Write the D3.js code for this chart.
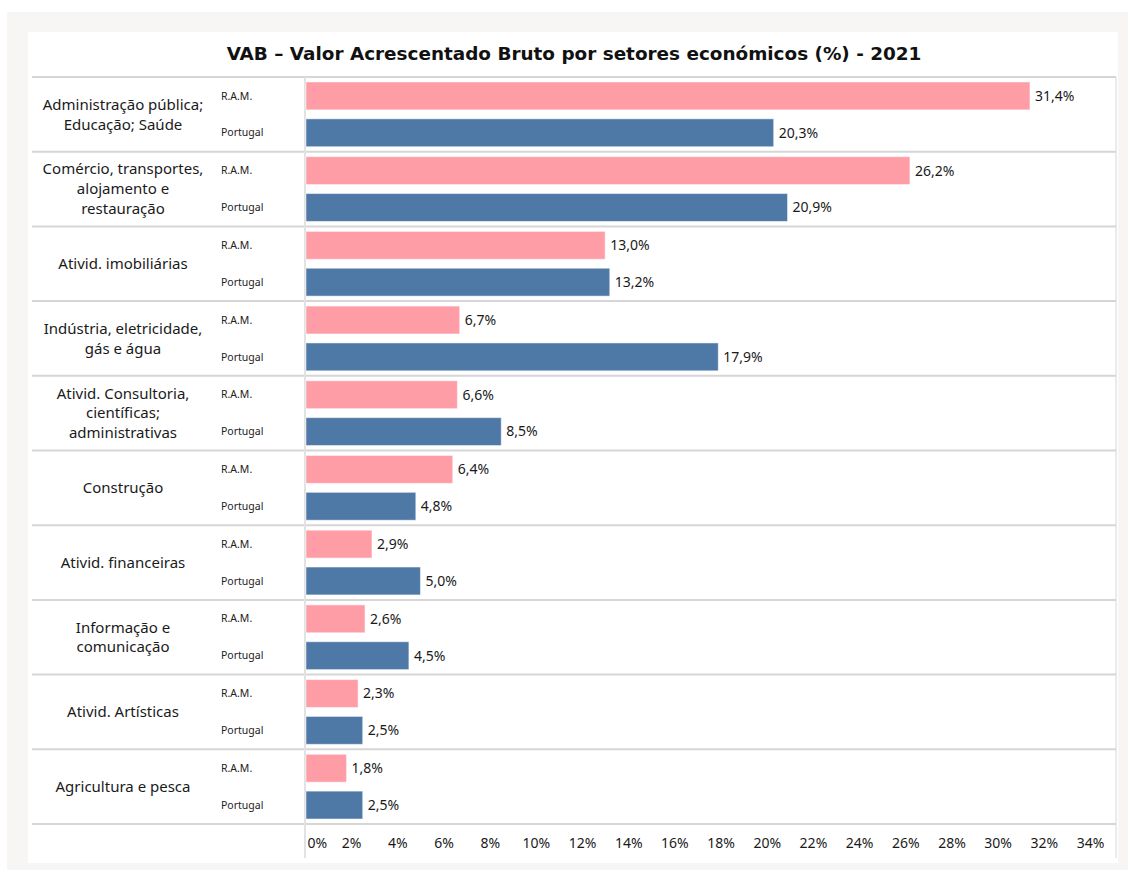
<!DOCTYPE html>
<html>
<head>
<meta charset="utf-8">
<script src="https://cdn.jsdelivr.net/npm/d3@7"></script>
<style>
  body { margin: 0; background: #fff; }
  svg { display: block; }
  text { font-family: "Noto Sans", sans-serif; fill: #222; }
</style>
</head>
<body>
<script>
const categories = [
    ["Administração pública;", "Educação; Saúde"],
    ["Comércio, transportes,", "alojamento e", "restauração"],
    ["Ativid. imobiliárias"],
    ["Indústria, eletricidade,", "gás e água"],
    ["Ativid. Consultoria,", "científicas;", "administrativas"],
    ["Construção"],
    ["Ativid. financeiras"],
    ["Informação e", "comunicação"],
    ["Ativid. Artísticas"],
    ["Agricultura e pesca"]
];
const series = ["R.A.M.", "Portugal"];
const ramValues = [31.4, 26.2, 13.0, 6.7, 6.6, 6.4, 2.9, 2.6, 2.3, 1.8];
const ptValues = [20.3, 20.9, 13.2, 17.9, 8.5, 4.8, 5.0, 4.5, 2.5, 2.5];
const tickValues = [0, 2, 4, 6, 8, 10, 12, 14, 16, 18, 20, 22, 24, 26, 28, 30, 32, 34];

const width = 1128, height = 870;
const colors = {"R.A.M.": "#ff9da7", "Portugal": "#4e79a7"};
const lineColor = "#d6d6d6";

const svg = d3.select("body").append("svg")
    .attr("width", width)
    .attr("height", height);

// backgrounds
svg.append("rect").attr("x", 7).attr("y", 12).attr("width", width - 7).attr("height", height - 12)
    .attr("fill", "#f7f6f4");
svg.append("rect").attr("x", 28).attr("y", 32).attr("width", 1090).attr("height", 831)
    .attr("fill", "#fff");

svg.append("text")
    .attr("x", 574).attr("y", 55)
    .attr("text-anchor", "middle")
    .attr("dominant-baseline", "middle")
    .style("font-family", "'DejaVu Sans', sans-serif")
    .style("font-weight", "bold")
    .style("font-size", "18.4px")
    .style("fill", "#111")
    .text("VAB – Valor Acrescentado Bruto por setores económicos (%) - 2021");

const plotLeft = 32, plotRight = 1116, plotTop = 77, plotBottom = 824;

const x = d3.scaleLinear().domain([0, 34]).range([305, 1090]);
const y = d3.scaleBand().domain(d3.range(categories.length)).range([plotTop, plotBottom]);
const ySub = d3.scaleBand().domain(series).range([0, y.bandwidth()])
    .paddingInner(0.243).paddingOuter(0.135);

const rows = categories.map((c, i) => ({
    label: c,
    values: [{s: "R.A.M.", v: ramValues[i]}, {s: "Portugal", v: ptValues[i]}]
}));

// separators
svg.append("g").selectAll("line")
    .data(d3.range(categories.length + 1))
    .join("line")
    .attr("x1", plotLeft).attr("x2", plotRight)
    .attr("y1", i => i === categories.length ? plotBottom : y(i))
    .attr("y2", i => i === categories.length ? plotBottom : y(i))
    .attr("stroke", lineColor).attr("stroke-width", 2);

svg.append("line").attr("x1", 305).attr("x2", 305).attr("y1", plotTop).attr("y2", 858)
    .attr("stroke", "#e2e2e2").attr("stroke-width", 2);
svg.append("line").attr("x1", plotRight).attr("x2", plotRight).attr("y1", plotTop).attr("y2", 858)
    .attr("stroke", lineColor).attr("stroke-width", 1);

const row = svg.append("g").selectAll("g")
    .data(rows)
    .join("g")
    .attr("transform", (d, i) => "translate(0," + y(i) + ")");

row.append("text")
    .attr("x", 123)
    .attr("text-anchor", "middle")
    .style("font-size", "15px")
    .style("fill", "#1a1a1a")
    .each(function(d) {
        const n = d.label.length, lh = 19.8;
        d3.select(this).selectAll("tspan")
            .data(d.label)
            .join("tspan")
            .attr("x", 123)
            .attr("y", (t, k) => y.bandwidth() / 2 + (k - (n - 1) / 2) * lh)
            .attr("dy", "0.35em")
            .text(t => t);
    });

row.selectAll(".sub")
    .data(d => d.values)
    .join("text")
    .attr("class", "sub")
    .attr("x", 221)
    .attr("y", d => ySub(d.s) + ySub.bandwidth() / 2)
    .attr("dy", "0.35em")
    .style("font-size", "10.5px")
    .text(d => d.s);

row.selectAll("rect")
    .data(d => d.values)
    .join("rect")
    .attr("x", x(0) + 1)
    .attr("y", d => ySub(d.s))
    .attr("width", d => x(d.v) - x(0) - 1)
    .attr("height", ySub.bandwidth())
    .attr("fill", d => colors[d.s])
    .attr("stroke", "#fff").attr("stroke-opacity", 0.5);

row.selectAll(".val")
    .data(d => d.values)
    .join("text")
    .attr("class", "val")
    .attr("x", d => x(d.v) + 5)
    .attr("y", d => ySub(d.s) + ySub.bandwidth() / 2)
    .attr("dy", "0.35em")
    .style("font-size", "14px")
    .style("fill", "#1a1a1a")
    .text(d => d3.format(".1f")(d.v).replace(".", ",") + "%");

// axis
const axis = svg.append("g")
    .attr("transform", "translate(0," + (plotBottom + 19) + ")")
    .call(d3.axisBottom(x).tickValues(tickValues).tickSize(0).tickFormat(d => d + "%"));
axis.select(".domain").remove();
axis.selectAll("text")
    .attr("dy", "0.35em").attr("y", 0)
    .style("font-family", "'Noto Sans', sans-serif")
    .style("font-size", "14px")
    .style("fill", "#1a1a1a")
    .attr("text-anchor", d => d === 0 ? "start" : "middle")
    .attr("x", d => d === 0 ? 2 : 0);
</script>
</body>
</html>
